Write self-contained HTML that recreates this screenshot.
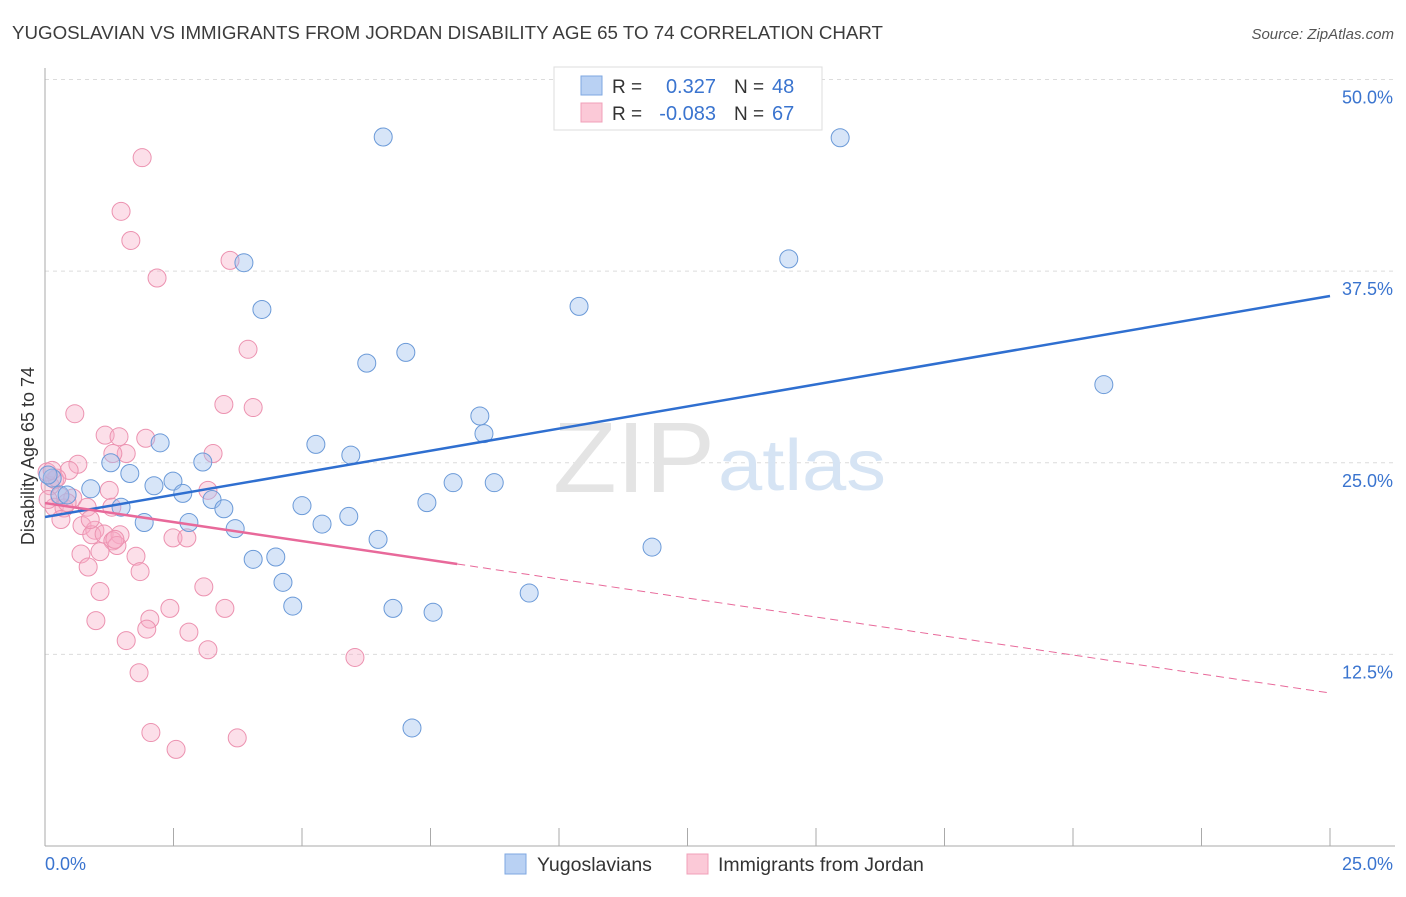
<!DOCTYPE html>
<html><head><meta charset="utf-8"><style>
body{margin:0;background:#fff;font-family:"Liberation Sans",sans-serif}
svg text{font-family:"Liberation Sans",sans-serif}
</style></head><body>
<svg id="chart" width="1406" height="892">
<text x="12" y="39" font-size="18.7" fill="#3c3c3c" textLength="871" lengthAdjust="spacingAndGlyphs">YUGOSLAVIAN VS IMMIGRANTS FROM JORDAN DISABILITY AGE 65 TO 74 CORRELATION CHART</text>
<text x="1394" y="39" font-size="15" fill="#555" font-style="italic" text-anchor="end">Source: ZipAtlas.com</text>
<text x="34" y="456" font-size="18" fill="#333" text-anchor="middle" transform="rotate(-90 34 456)">Disability Age 65 to 74</text>
<g id="grid"></g>
<g id="axes"></g>
<text x="553" y="492" font-size="100" fill="#e4e4e4" font-family="Liberation Serif" textLength="162" lengthAdjust="spacingAndGlyphs">ZIP</text>
<text x="718" y="490" font-size="72" fill="#d6e4f4" textLength="168" lengthAdjust="spacingAndGlyphs">atlas</text>
<g id="pts"></g>
<g id="lines"></g>
<g>
<rect x="554" y="67" width="268" height="63" fill="#fff" stroke="#ddd"/>
<rect x="581" y="76" width="21" height="19" fill="#b9d1f3" stroke="#7ea7e2"/>
<rect x="581" y="103" width="21" height="19" fill="#fbc9d7" stroke="#f0a0b8"/>
<text x="612" y="93" font-size="19" fill="#333">R =</text>
<text x="716" y="93" font-size="20" fill="#3a74cf" text-anchor="end">0.327</text>
<text x="734" y="93" font-size="19" fill="#333">N =</text>
<text x="772" y="93" font-size="20" fill="#3a74cf">48</text>
<text x="612" y="120" font-size="19" fill="#333">R =</text>
<text x="716" y="120" font-size="20" fill="#3a74cf" text-anchor="end">-0.083</text>
<text x="734" y="120" font-size="19" fill="#333">N =</text>
<text x="772" y="120" font-size="20" fill="#3a74cf">67</text>
</g>
<g>
<rect x="505" y="854" width="21" height="20" fill="#b9d1f3" stroke="#7ea7e2"/>
<text x="537" y="871" font-size="19.5" fill="#333">Yugoslavians</text>
<rect x="687" y="854" width="21" height="20" fill="#fbc9d7" stroke="#f0a0b8"/>
<text x="718" y="871" font-size="19.5" fill="#333">Immigrants from Jordan</text>
</g>
</svg>
<script>
const yTicks=[12.5,25,37.5,50];
const yTickLabels=["12.5%","25.0%","37.5%","50.0%"];
const xEndLabels=["0.0%","25.0%"];
const blueX=[6.58,15.47,3.87,14.47,4.22,10.39,7.02,6.26,20.6,8.46,8.54,2.24,5.27,5.95,3.07,1.28,1.65,2.49,2.12,2.68,0.89,0.29,0.14,3.25,3.48,1.48,5.0,7.43,7.94,8.74,1.93,2.8,5.39,5.91,3.7,6.48,11.81,4.05,4.49,4.63,4.82,6.77,7.55,9.42,7.14,0.43,0.06];
const blueY=[46.25,46.2,38.05,38.3,35.0,35.2,32.2,31.5,30.1,28.05,26.9,26.3,26.2,25.5,25.05,25.0,24.3,23.8,23.5,23.0,23.3,22.9,24.0,22.6,22.0,22.1,22.2,22.4,23.7,23.7,21.1,21.1,21.0,21.5,20.7,20.0,19.5,18.7,18.85,17.2,15.65,15.5,15.25,16.5,7.7,22.9,24.2];
const pinkX=[1.89,1.48,1.67,2.18,3.6,3.95,3.48,4.05,0.58,1.17,1.44,1.96,3.27,1.58,1.32,0.64,0.47,0.19,1.25,3.17,0.29,0.54,0.18,0.37,0.82,1.3,0.31,0.72,0.97,0.91,1.15,1.46,1.32,1.4,2.49,2.76,1.07,0.7,1.77,0.84,1.85,1.07,3.09,2.43,3.5,2.04,0.99,1.98,2.8,1.58,3.17,6.03,1.83,2.06,2.55,3.74,0.1,0.06,0.23,0.43,1.36,0.88,0.04,0.14];
const pinkY=[44.9,41.4,39.5,37.05,38.2,32.4,28.8,28.6,28.2,26.8,26.7,26.6,25.6,25.6,25.6,24.9,24.5,23.9,23.2,23.2,22.8,22.7,22.1,22.05,22.1,22.1,21.3,20.9,20.6,20.3,20.35,20.3,19.9,19.6,20.1,20.1,19.2,19.05,18.9,18.2,17.9,16.6,16.9,15.5,15.5,14.8,14.7,14.15,13.95,13.4,12.8,12.3,11.3,7.4,6.3,7.05,23.5,22.6,24.0,22.4,20.0,21.3,24.4,24.5];
const blueTrend=[21.46,35.88];
const pinkTrend=[22.37,9.98];
const pinkSolidEnd=8.02;
const NS="http://www.w3.org/2000/svg";
const X=v=>45+v/25*1285;
const Y=v=>846-v*15.33;
function mk(tag,attrs,parent){const e=document.createElementNS(NS,tag);for(const k in attrs)e.setAttribute(k,attrs[k]);parent.appendChild(e);return e;}
const grid=document.getElementById('grid'),axes=document.getElementById('axes'),pts=document.getElementById('pts'),lines=document.getElementById('lines');
yTicks.forEach((t,i)=>{
 const l=mk('line',{x1:45,x2:1395,y1:Y(t),y2:Y(t),stroke:'#dcdcdc','stroke-dasharray':'4,4'},grid);
 
 
 const tx=mk('text',{x:1393,y:Y(t)+24,'font-size':18,fill:'#3a74cf','text-anchor':'end'},axes);
 tx.textContent=yTickLabels[i];
 
 
});
mk('line',{x1:45,x2:45,y1:68,y2:846,stroke:'#aaa'},axes);
mk('line',{x1:45,x2:1395,y1:846,y2:846,stroke:'#aaa'},axes);
for(let i=0;i<=10;i++){const xx=X(i*2.5);mk('line',{x1:xx,x2:xx,y1:828,y2:846,stroke:'#aaa'},axes);}
const xl0=mk('text',{x:45,y:870,'font-size':18,fill:'#3a74cf'},axes);xl0.textContent=xEndLabels[0];


const xl1=mk('text',{x:1393,y:870,'font-size':18,fill:'#3a74cf','text-anchor':'end'},axes);xl1.textContent=xEndLabels[1];


pinkX.forEach((v,i)=>{
 const c=mk('circle',{cx:X(v),cy:Y(pinkY[i]),r:9,fill:'rgba(246,170,196,0.38)',stroke:'#ec92b0','stroke-width':1},pts);
 
 
});
blueX.forEach((v,i)=>{
 const c=mk('circle',{cx:X(v),cy:Y(blueY[i]),r:9,fill:'rgba(160,192,238,0.42)',stroke:'#6b9ad8','stroke-width':1},pts);
 
 
});
const pAt=x=>pinkTrend[0]+(pinkTrend[1]-pinkTrend[0])*x/25;
const bl=mk('line',{x1:X(0),y1:Y(blueTrend[0]),x2:X(25),y2:Y(blueTrend[1]),stroke:'#2f6fd0','stroke-width':2.5},lines);


const pl=mk('line',{x1:X(0),y1:Y(pAt(0)),x2:X(pinkSolidEnd),y2:Y(pAt(pinkSolidEnd)),stroke:'#e8699a','stroke-width':2.5},lines);


const pd=mk('line',{x1:X(pinkSolidEnd),y1:Y(pAt(pinkSolidEnd)),x2:X(25),y2:Y(pAt(25)),stroke:'#e8699a','stroke-width':1,'stroke-dasharray':'8,5'},lines);


</script>
</body></html>
